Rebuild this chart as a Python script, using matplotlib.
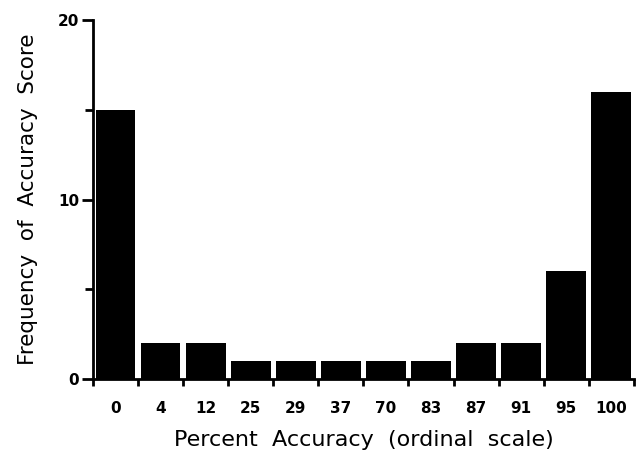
import matplotlib
matplotlib.use("Agg")
import matplotlib.pyplot as plt
from matplotlib.ticker import MultipleLocator, FixedLocator, NullFormatter

categories = ["0", "4", "12", "25", "29", "37", "70", "83", "87", "91", "95", "100"]
frequency = [15, 2, 2, 1, 1, 1, 1, 1, 2, 2, 6, 16]

fig = plt.figure(figsize=(6.37, 4.59), dpi=100)
ax = fig.add_axes([0.146, 0.174, 0.849, 0.782])
x = list(range(len(categories)))
ax.bar(x, frequency, width=0.88, color="black", zorder=3)
ax.set_xlim(-0.5, len(categories) - 0.5)
ax.set_ylim(0, 20)

for s in ["top", "right"]:
    ax.spines[s].set_visible(False)
ax.spines["left"].set_linewidth(2)
ax.spines["bottom"].set_linewidth(2)

ax.yaxis.set_major_locator(MultipleLocator(10))
ax.yaxis.set_minor_locator(MultipleLocator(5))
ax.tick_params(axis="y", which="major", length=8, width=2, labelsize=11, pad=2)
ax.tick_params(axis="y", which="minor", length=6, width=2)

ax.set_xticks(x)
ax.set_xticklabels(categories)
ax.tick_params(axis="x", which="major", length=0, labelsize=11, pad=16)
ax.xaxis.set_minor_locator(FixedLocator([i - 0.5 for i in range(len(categories) + 1)]))
ax.xaxis.set_minor_formatter(NullFormatter())
ax.tick_params(axis="x", which="minor", length=5, width=2)

for lbl in ax.get_xticklabels() + ax.get_yticklabels():
    lbl.set_fontweight("bold")

ax.set_xlabel("Percent  Accuracy  (ordinal  scale)", fontsize=16, labelpad=10,
              fontweight="medium")
ax.set_ylabel("Frequency  of  Accuracy  Score", fontsize=15.5, labelpad=14,
              fontweight="medium")

fig.savefig("out.png", dpi=100)
